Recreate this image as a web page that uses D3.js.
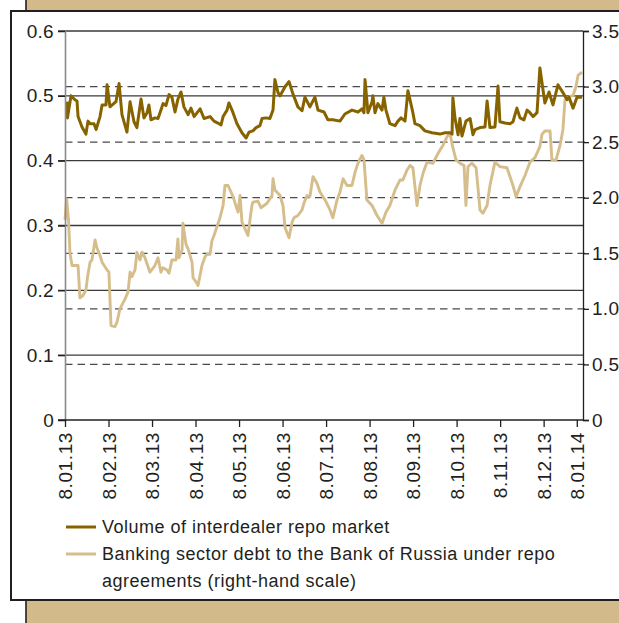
<!DOCTYPE html>
<html><head><meta charset="utf-8">
<script src="https://cdn.jsdelivr.net/npm/d3@7"></script>
<style>body{margin:0;background:#fff;overflow:hidden} svg{display:block}</style>
</head><body>
<svg id="c" width="619" height="623"></svg>
<script>
// ---- data ----
const tickIdx = [0, 21, 42, 63, 84, 105, 126, 147, 168, 189, 210, 231, 247];
const tickLabels = ["8.01.13","8.02.13","8.03.13","8.04.13","8.05.13","8.06.13","8.07.13","8.08.13","8.09.13","8.10.13","8.11.13","8.12.13","8.01.14"];
const leftTicks = [0, 0.1, 0.2, 0.3, 0.4, 0.5, 0.6];
const leftLabels = ["0","0.1","0.2","0.3","0.4","0.5","0.6"];
const rightTicks = [0, 0.5, 1.0, 1.5, 2.0, 2.5, 3.0, 3.5];
const rightLabels = ["0","0.5","1.0","1.5","2.0","2.5","3.0","3.5"];
const seriesNames = ["Volume of interdealer repo market", "Banking sector debt to the Bank of Russia under repo", "agreements (right-hand scale)"];

// [trading-day index, value] — left scale
const repoVolume = [[0.9,0.491],[1.2,0.466],[2.9,0.500],[4.8,0.494],[5.8,0.492],[6.3,0.468],[8.2,0.452],[10.1,0.441],[11.1,0.461],[12.1,0.457],[14,0.457],[15,0.448],[16.9,0.468],[17.9,0.486],[19.8,0.486],[20.3,0.517],[21.7,0.483],[24.6,0.491],[26.1,0.519],[27.5,0.471],[29.9,0.444],[31.4,0.491],[33.3,0.460],[34.7,0.451],[36.7,0.495],[38.1,0.466],[39.6,0.474],[40.5,0.486],[41.5,0.463],[43.4,0.466],[44.9,0.465],[46.3,0.478],[47.3,0.488],[48.7,0.485],[50.2,0.502],[51.6,0.498],[53.1,0.475],[54.5,0.495],[56,0.506],[57.4,0.483],[59.4,0.471],[60.8,0.481],[62.3,0.468],[65.2,0.480],[67.1,0.465],[70,0.468],[71.9,0.461],[73.8,0.458],[75.3,0.455],[76.3,0.468],[78.2,0.478],[79.1,0.489],[80.6,0.478],[83,0.457],[85.4,0.443],[87.4,0.435],[88.8,0.444],[90.7,0.446],[92.2,0.451],[94.1,0.454],[95.1,0.465],[97,0.466],[98.9,0.465],[100.4,0.478],[101.3,0.525],[102.8,0.505],[103.8,0.500],[106.2,0.514],[108.1,0.522],[110,0.503],[112.4,0.483],[114.4,0.477],[115.8,0.498],[118.2,0.483],[120.6,0.498],[122.1,0.478],[125,0.475],[126.9,0.463],[129.3,0.463],[132.7,0.461],[135.1,0.472],[138.5,0.478],[141.4,0.475],[143.3,0.480],[144.3,0.474],[144.8,0.525],[146.2,0.474],[148.2,0.491],[148.6,0.500],[149.6,0.474],[151,0.488],[153,0.478],[153.9,0.498],[154.9,0.478],[156.8,0.457],[159.3,0.454],[160.7,0.461],[162.2,0.466],[164.1,0.461],[165.5,0.508],[167.9,0.474],[168.9,0.457],[171.3,0.454],[173.7,0.446],[177.1,0.443],[181,0.441],[183.4,0.443],[185.8,0.443],[186.8,0.441],[187.2,0.497],[188.2,0.466],[189.7,0.440],[190.6,0.465],[191.6,0.438],[193.5,0.461],[195.5,0.465],[196.9,0.440],[197.9,0.448],[200.3,0.451],[202.7,0.452],[203.7,0.492],[205.1,0.451],[207.5,0.452],[209,0.515],[209.9,0.460],[212.3,0.458],[214.8,0.457],[216.2,0.460],[218.1,0.481],[219.6,0.466],[221.5,0.463],[223,0.478],[224.4,0.474],[225.9,0.468],[227.8,0.474],[229.2,0.543],[231.6,0.489],[233.6,0.506],[235.5,0.486],[237.9,0.517],[240.3,0.505],[242.3,0.494],[243.2,0.498],[245.2,0.481],[247.1,0.498],[249.5,0.498]];

// [trading-day index, value] — right scale
const bankDebt = [[0,1.80],[0.8,1.99],[1.7,1.80],[2.4,1.50],[3.4,1.39],[6.3,1.39],[7.2,1.10],[8.7,1.12],[10.1,1.17],[10.9,1.29],[12.1,1.42],[13,1.44],[14.5,1.62],[15.4,1.55],[16.9,1.48],[17.9,1.42],[20.3,1.35],[21.2,1.33],[22.2,0.85],[24.1,0.84],[25.1,0.88],[26.5,1.00],[29,1.09],[30.4,1.15],[31.4,1.33],[32.3,1.29],[33.8,1.35],[34.7,1.51],[36.2,1.44],[37.2,1.51],[38.6,1.46],[41,1.33],[43.4,1.39],[44.9,1.46],[46.3,1.33],[47.3,1.37],[49.2,1.35],[50.2,1.32],[51.6,1.44],[53.6,1.44],[54.5,1.63],[55,1.46],[56.5,1.53],[56.9,1.77],[58.4,1.58],[59.4,1.54],[61.3,1.42],[61.8,1.28],[63.7,1.23],[64.2,1.21],[66.1,1.39],[67.6,1.47],[68.5,1.49],[70,1.49],[70.9,1.61],[71.9,1.66],[74.8,1.82],[76.3,1.93],[77.2,2.11],[78.7,2.11],[81.1,2.01],[83.5,1.87],[84.5,2.02],[85.4,1.78],[88.3,1.66],[90.2,1.93],[90.7,1.96],[93.1,1.97],[94.6,1.91],[97.5,1.95],[99.9,2.02],[100.4,2.17],[101.3,2.07],[103.8,2.02],[105.2,1.93],[106.2,1.73],[108.1,1.64],[109.6,1.78],[110.5,1.82],[112.4,1.84],[114.4,1.89],[115.3,1.95],[116.8,2.02],[118.2,2.01],[119.7,2.19],[121.6,2.13],[123.1,2.05],[125.5,1.98],[127.9,1.89],[129.3,1.82],[131.3,1.98],[132.7,2.05],[134.2,2.17],[136.1,2.11],[138.5,2.11],[140,2.23],[141.4,2.31],[143.3,2.38],[144.3,2.34],[145.7,1.98],[148.2,1.93],[150.6,1.84],[153,1.77],[154.9,1.87],[156.8,1.93],[159.3,2.07],[161.7,2.16],[163.1,2.16],[165.1,2.25],[166.5,2.29],[167.9,2.27],[169.9,1.93],[171.3,2.11],[172.8,2.22],[174.7,2.32],[177.6,2.31],[179.5,2.38],[181,2.43],[182.4,2.47],[184.4,2.55],[185.8,2.58],[187.2,2.45],[188.7,2.34],[190.6,2.31],[192.6,2.29],[193.5,1.93],[194.5,2.28],[196.4,2.31],[198.4,2.27],[200.3,1.89],[201.7,1.86],[203.7,1.93],[205.1,2.11],[207.5,2.32],[209.9,2.28],[213.3,2.27],[216.2,2.11],[217.7,2.01],[219.6,2.10],[222,2.20],[224.4,2.32],[226.8,2.36],[229.2,2.46],[230.2,2.57],[231.6,2.60],[234.1,2.60],[235,2.34],[237,2.34],[238.9,2.47],[240.3,2.61],[241.3,2.88],[243.7,2.91],[245.2,2.92],[246.6,3.00],[247.6,3.10],[249.5,3.13]];

// ---- style ----
const TAN = "#d3ba8b", INK = "#231f20";
const DARK = "#876300", LIGHT = "#d6bd8c";
const FONT = "'Liberation Sans', Arial, sans-serif";

const svg = d3.select("#c");
const L = 65, R = 583, T = 31, B = 420;
const x = d3.scaleLinear().domain([0, 250]).range([L, R]);
const yL = d3.scaleLinear().domain([0, 0.6]).range([B, T]);
const yR = d3.scaleLinear().domain([0, 3.5]).range([B, T]);

// frame
svg.append("rect").attr("x", 26).attr("y", 596).attr("width", 620).attr("height", 40).attr("rx", 5)
  .attr("fill", TAN).attr("stroke", INK).attr("stroke-width", 1.6);
svg.append("rect").attr("x", 26).attr("y", -10).attr("width", 620).attr("height", 21)
  .attr("fill", TAN).attr("stroke", INK).attr("stroke-width", 1.6);
svg.append("rect").attr("x", 11).attr("y", 11).attr("width", 640).attr("height", 589)
  .attr("fill", "#fff").attr("stroke", INK).attr("stroke-width", 2);

// dashed grid (right scale)
svg.append("g").selectAll("line").data(rightTicks.filter(d => d > 0 && d < 3.5)).join("line")
  .attr("x1", L).attr("x2", R + 5).attr("y1", d => yR(d)).attr("y2", d => yR(d))
  .attr("stroke", "#4a4a4a").attr("stroke-width", 1.3).attr("stroke-dasharray", "7.5,5");

// solid grid (left scale)
svg.append("g").selectAll("line").data(leftTicks.filter(d => d > 0)).join("line")
  .attr("x1", L - 7).attr("x2", R).attr("y1", d => yL(d)).attr("y2", d => yL(d))
  .attr("stroke", "#3a3a3a").attr("stroke-width", 1.3);

// lines
const lineL = d3.line().x(d => x(d[0])).y(d => yL(d[1]));
const lineR = d3.line().x(d => x(d[0])).y(d => yR(d[1]));
svg.append("path").datum(bankDebt).attr("d", lineR).attr("fill", "none")
  .attr("stroke", LIGHT).attr("stroke-width", 2.9).attr("stroke-linejoin", "round");
svg.append("path").datum(repoVolume).attr("d", lineL).attr("fill", "none")
  .attr("stroke", DARK).attr("stroke-width", 3).attr("stroke-linejoin", "round");

// axes
const gL = svg.append("g").attr("transform", `translate(${L},0)`)
  .call(d3.axisLeft(yL).tickValues(leftTicks).tickSize(7).tickPadding(4).tickFormat((d, i) => leftLabels[i]));
gL.select(".domain").attr("stroke", "#8a8a8a").attr("stroke-width", 1.6);
gL.selectAll(".tick line").attr("stroke", INK).attr("stroke-width", 1.3);

const gR = svg.append("g").attr("transform", `translate(${R},0)`)
  .call(d3.axisRight(yR).tickValues(rightTicks).tickSize(6).tickPadding(3).tickFormat((d, i) => rightLabels[i]));
gR.select(".domain").attr("stroke", INK).attr("stroke-width", 1.3);
gR.selectAll(".tick line").attr("stroke", INK).attr("stroke-width", 1.3);

const gB = svg.append("g").attr("transform", `translate(0,${B})`)
  .call(d3.axisBottom(x).tickValues(tickIdx).tickSize(7).tickFormat((d, i) => tickLabels[i]));
gB.select(".domain").remove();
gB.selectAll(".tick line").attr("stroke", INK).attr("stroke-width", 1.3);
gB.selectAll(".tick text").attr("transform", "rotate(-90)").attr("x", -12).attr("y", 0)
  .attr("dy", "0.35em").attr("text-anchor", "end");
svg.append("line").attr("x1", L - 7).attr("x2", R).attr("y1", B).attr("y2", B)
  .attr("stroke", INK).attr("stroke-width", 1.3);

svg.selectAll(".tick text").attr("fill", INK).attr("font-family", FONT);
gL.selectAll(".tick text").attr("font-size", 19).attr("letter-spacing", 0.3);
gR.selectAll(".tick text").attr("font-size", 19).attr("letter-spacing", 0.3);
gB.selectAll(".tick text").attr("font-size", 19).attr("letter-spacing", 0.6);

// legend
const lg = svg.append("g").attr("font-family", FONT).attr("font-size", 18).attr("fill", INK).attr("letter-spacing", 0.5);
lg.append("line").attr("x1", 66).attr("x2", 96).attr("y1", 527).attr("y2", 527).attr("stroke", DARK).attr("stroke-width", 3);
lg.append("line").attr("x1", 66).attr("x2", 96).attr("y1", 554).attr("y2", 554).attr("stroke", LIGHT).attr("stroke-width", 3);
[527, 554, 581].forEach((yy, i) => {
  lg.append("text").attr("x", 102).attr("y", yy).attr("dy", "0.35em").text(seriesNames[i]);
});
</script>
</body></html>
